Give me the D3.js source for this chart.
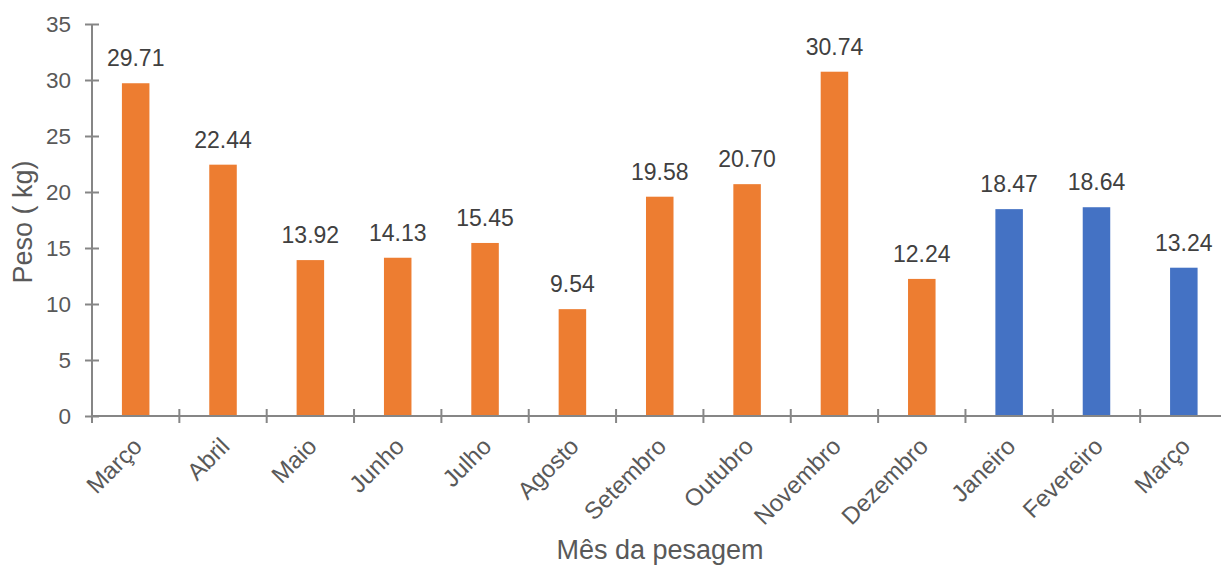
<!DOCTYPE html>
<html><head><meta charset="utf-8">
<script src="https://cdn.jsdelivr.net/npm/d3@7"></script>
<style>body{margin:0;background:#fff}svg{display:block}text{font-family:"Liberation Sans",Arial,sans-serif}</style>
</head><body><svg id="c" width="1221" height="565"></svg>
<script>
const months = ["Março","Abril","Maio","Junho","Julho","Agosto","Setembro","Outubro","Novembro","Dezembro","Janeiro","Fevereiro","Março"];
const values = [29.71,22.44,13.92,14.13,15.45,9.54,19.58,20.70,30.74,12.24,18.47,18.64,13.24];
const groups = ["a","a","a","a","a","a","a","a","a","a","b","b","b"];
const yTicks = [0,5,10,15,20,25,30,35];
const yTitle = "Peso ( kg)";
const xTitle = "Mês da pesagem";

const svg = d3.select("#c");
const mLeft = 92, mRight = 1227.5, mTop = 24, mBottom = 416;
const ids = months.map((m,i)=>i);
const x = d3.scaleBand().domain(ids).range([mLeft,mRight]).padding(0);
const y = d3.scaleLinear().domain([0,35]).range([mBottom,mTop]);
const color = d3.scaleOrdinal().domain(["a","b"]).range(["#ED7D31","#4472C4"]);
const bw = x.bandwidth()*0.315;
const axisCol = "#868686";

svg.selectAll("rect.bar").data(values).join("rect").attr("class","bar")
  .attr("x",(d,i)=>x(i)+x.bandwidth()/2-bw/2).attr("width",bw)
  .attr("y",d=>y(d)).attr("height",d=>y(0)-y(d))
  .attr("fill",(d,i)=>color(groups[i]));

svg.selectAll("text.val").data(values).join("text").attr("class","val")
  .attr("x",(d,i)=>x(i)+x.bandwidth()/2).attr("y",d=>y(d)-17)
  .attr("text-anchor","middle").attr("font-size",23).attr("fill","#404040")
  .text(d=>d.toFixed(2));

// y axis
const ya = svg.append("g").attr("transform",`translate(${mLeft},0)`)
  .call(d3.axisLeft(y).tickValues(yTicks).tickSize(7).tickPadding(14));
ya.select(".domain").remove();
ya.selectAll(".tick line").attr("x1",-7).attr("x2",7).attr("stroke",axisCol).attr("stroke-width",2);
ya.selectAll(".tick text").attr("font-size",22.5).attr("fill","#595959").attr("font-family","Liberation Sans, Arial, sans-serif");
svg.append("line").attr("x1",mLeft).attr("x2",mLeft).attr("y1",mTop).attr("y2",mBottom).attr("stroke",axisCol).attr("stroke-width",2);

// x axis
svg.append("line").attr("x1",mLeft).attr("x2",1221).attr("y1",mBottom).attr("y2",mBottom).attr("stroke",axisCol).attr("stroke-width",2);
const bounds = ids.map(i=>x(i)).concat([mRight]);
svg.selectAll("line.xt").data(bounds).join("line").attr("class","xt")
  .attr("x1",d=>d).attr("x2",d=>d).attr("y1",mBottom-7).attr("y2",mBottom+7)
  .attr("stroke",axisCol).attr("stroke-width",2);

svg.selectAll("text.xl").data(months).join("text").attr("class","xl")
  .attr("transform",(d,i)=>`translate(${x(i)+x.bandwidth()/2-4},${mBottom+20}) rotate(-45)`)
  .attr("text-anchor","end").attr("dy","0.7em").attr("font-size",24).attr("fill","#595959")
  .text(d=>d);

svg.append("text").attr("transform","translate(32,222) rotate(-90)").attr("text-anchor","middle")
  .attr("font-size",27).attr("fill","#595959").text(yTitle);
svg.append("text").attr("x",660).attr("y",559).attr("text-anchor","middle")
  .attr("font-size",27).attr("fill","#595959").text(xTitle);
</script></body></html>
